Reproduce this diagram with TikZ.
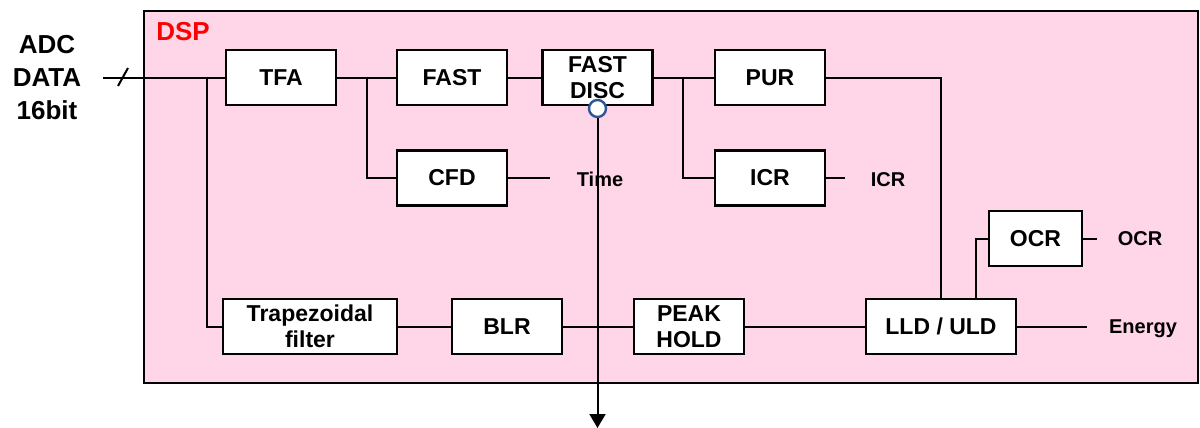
\documentclass[tikz,border=0pt]{standalone}
\usepackage{fontspec}
\setmainfont{Liberation Sans}
\usepackage{tikz}
\usetikzlibrary{arrows.meta}

\definecolor{dsppink}{RGB}{255,213,232}
\definecolor{tapblue}{RGB}{47,85,151}

\begin{document}
\begin{tikzpicture}[x=0.5pt, y=-0.5pt,
  blk/.style={draw=black, fill=white, line width=1.2pt, minimum width=55pt, minimum height=27.5pt, inner sep=0pt, align=center, font=\bfseries\fontsize{11.5}{13}\selectfont},
  lbl/.style={font=\bfseries\fontsize{10}{12}\selectfont, inner sep=0pt},
  wire/.style={line width=1pt},
  arr/.style={-{Triangle[width=8pt, length=7pt]}, line width=1pt}
]
  \useasboundingbox (0,0) rectangle (1200,428);
  \draw[fill=dsppink, line width=1.2pt] (144,11) rectangle (1198,383);
  \node[font=\bfseries\fontsize{13}{16}\selectfont, text=red, inner sep=0pt] (dsp) at (183,32) {DSP};
  \node[font=\bfseries\fontsize{13}{16.5}\selectfont, align=center, inner sep=0pt] (adc) at (47,78) {ADC\\DATA\\16bit};

  \foreach \n/\x/\y/\t in {tfa/281/77.5/TFA, fast/452/77.5/FAST, disc/597.5/77.5/{FAST\\DISC}, pur/770/77.5/PUR,
      cfd/452/178/CFD, icr/770/178/ICR, blr/507/326.5/BLR, peak/689/326.5/{PEAK\\HOLD}}{
    \node[blk] (\n) at (\x,\y) {\t};
  }
  \node[blk, minimum width=87pt] (trap) at (310,326.5) {Trapezoidal\\filter};
  \node[blk, minimum width=75pt] (lld) at (941,326.5) {LLD / ULD};
  \node[blk, minimum width=46.5pt] (ocr) at (1035.5,238.5) {OCR};

  \node[lbl] (time) at (600,179) {Time};
  \node[lbl] (icrout) at (888,180) {ICR};
  \node[lbl] (ocrout) at (1140,239) {OCR};
  \node[lbl] (energy) at (1143,329) {Energy};

  \coordinate (in) at (103,77.5);
  \coordinate (t1) at (207,77.5);
  \coordinate (t2) at (367,77.5);
  \coordinate (t3) at (683,77.5);
  \coordinate (o1) at (976,299);
  \coordinate (timeend) at (550,178);
  \coordinate (icrend) at (845,178);
  \coordinate (ocrend) at (1097,238.5);
  \coordinate (energyend) at (1087,326.5);
  \coordinate (down) at (597.5,428);

  \draw[wire] (in) -- (tfa) -- (fast) -- (disc) -- (pur);
  \draw[wire] (118,86) -- (128,68);
  \draw[wire] (t1) |- (trap);
  \draw[wire] (t2) |- (cfd);
  \draw[wire] (t3) |- (icr);
  \draw[wire] (pur) -| (lld);
  \draw[wire] (o1) |- (ocr);
  \draw[wire] (trap) -- (blr) -- (peak) -- (lld) -- (energyend);
  \draw[wire] (cfd) -- (timeend);
  \draw[wire] (icr) -- (icrend);
  \draw[wire] (ocr) -- (ocrend);

  % discriminator tap
  \node[circle, draw=tapblue, fill=white, line width=1.2pt, minimum size=8.5pt, inner sep=0pt] (tap) at (597.5,108.5) {};
  \draw[arr] (tap) -- (down);
\end{tikzpicture}
\end{document}
